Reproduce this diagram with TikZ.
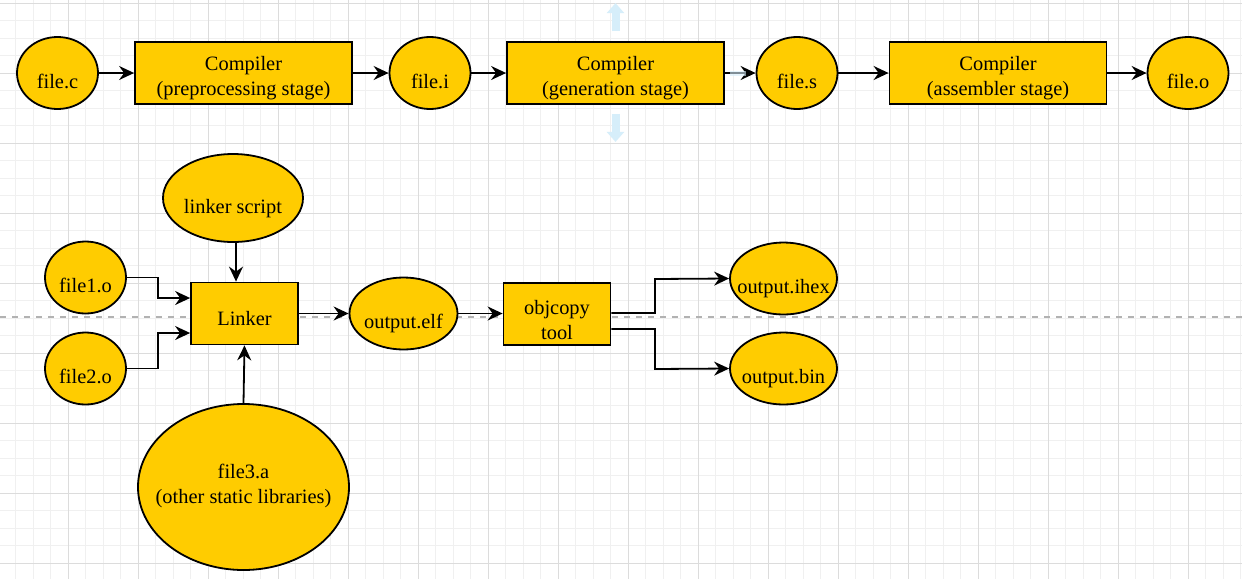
\documentclass[tikz,border=0pt]{standalone}
\usepackage{fontspec}
\setmainfont{Liberation Serif}
\usepackage{tikz}
\usetikzlibrary{shapes.geometric,arrows.meta}

\definecolor{boxfill}{HTML}{FFCC00}
\definecolor{gridminor}{HTML}{F0F0F0}
\definecolor{gridmajor}{HTML}{DCDCDC}
\definecolor{hintblue}{HTML}{D6EEFA}

\newcommand{\toppad}{\rule{0pt}{12pt}}

\begin{document}
\begin{tikzpicture}[x=0.5pt,y=-0.5pt,
    every node/.style={font=\fontsize{10.2}{12.5}\selectfont,align=center,inner sep=0pt},
    file/.style={ellipse,draw=black,line width=0.9pt,fill=boxfill,minimum width=40.5pt,minimum height=36pt,
      inner xsep=-14pt,inner ysep=-4pt,text height=15pt,text depth=0pt},
    stage/.style={rectangle,draw=black,line width=0.9pt,fill=boxfill,minimum width=108.5pt,minimum height=31pt},
    tool/.style={rectangle,draw=black,line width=0.9pt,fill=boxfill,minimum width=53.5pt,minimum height=31pt},
    flow/.style={-{Stealth[length=7.5pt,width=7pt,inset=2.5pt]},line width=0.9pt,black},
    hint/.style={-{Triangle[length=5pt,width=8.5pt]},line width=4pt,hintblue}]
  \useasboundingbox (0,0) rectangle (1242,579);
  \fill[white] (0,0) rectangle (1242,579);
  % grid
  \foreach \i in {0,...,71} {
    \draw[gridminor,line width=0.5pt] ({-2+17.5*\i},0) -- ++(0,579);
  }
  \foreach \j in {0,...,33} {
    \draw[gridminor,line width=0.5pt] (0,{3+17.5*\j}) -- ++(1242,0);
  }
  \foreach \i in {0,...,18} {
    \draw[gridmajor,line width=0.5pt] ({-2+70*\i},0) -- ++(0,579);
  }
  \foreach \j in {0,...,8} {
    \draw[gridmajor,line width=0.5pt] (0,{3+70*\j}) -- ++(1242,0);
  }
  \draw[black!30,dashed,line width=0.6pt] (0,317) -- (1242,317);

  % compile chain
  \node[file] (filec) at (57.5,73) {file.c};
  \node[stage] (pre) at (243.5,73) {\toppad Compiler\\(preprocessing stage)};
  \node[file] (filei) at (430,73) {file.i};
  \node[stage] (gen) at (615.5,73) {\toppad Compiler\\(generation stage)};
  \node[file] (files) at (797,73) {file.s};
  \node[stage] (asm) at (998,73) {\toppad Compiler\\(assembler stage)};
  \node[file] (fileo) at (1188,73) {file.o};

  \draw[flow] (filec) -- (pre);
  \draw[flow] (pre) -- (filei);
  \draw[flow] (filei) -- (gen);
  \draw[flow] (gen) -- (files);
  \draw[flow] (files) -- (asm);
  \draw[flow] (asm) -- (fileo);

  % selection hints
  \draw[hint] (gen.north) ++(0,-10) -- ++(0,-28);
  \draw[hint] (gen.south) ++(0,9) -- ++(0,28);
  \fill[hintblue,opacity=0.6] (gen.east) ++(5,-2.5) rectangle ++(16,5);

  % link stage
  \node[file,minimum width=70pt,minimum height=44pt] (script) at (233,198) {linker script};
  \node[file] (obj1) at (85.5,277.5) {file1.o};
  \node[file] (obj2) at (85.5,368.5) {file2.o};
  \node[tool] (linker) at (244.5,313.5) {\rule{0pt}{12pt}Linker};
  \node[file,minimum width=105.5pt,minimum height=83pt,text height=,text depth=] (lib) at (243.5,487)
    {\strut file3.a\\(other static libraries)\rule[-5pt]{0pt}{0pt}};
  \node[file,minimum width=54pt] (elf) at (403.5,313.5) {output.elf};
  \node[tool] (objcopy) at (557,314) {\rule{0pt}{13pt}objcopy\\tool};
  \node[file,minimum width=53.5pt] (ihex) at (783.5,278.5) {output.ihex};
  \node[file,minimum width=53.5pt] (bin) at (783.5,368.5) {output.bin};

  \coordinate (in1) at (linker.west |- 0,298);
  \coordinate (in2) at (linker.west |- 0,333);
  \coordinate (out1) at (objcopy.east |- 0,313);
  \coordinate (out2) at (objcopy.east |- 0,329);

  \draw[flow] (script.south -| 236,0) -- (linker.north -| 236,0);
  \draw[flow] (obj1.east) -| (158,298) -- (in1);
  \draw[flow] (obj2.east) -| (158,333) -- (in2);
  \draw[flow] (lib.north) -- (linker.south);
  \draw[flow] (linker) -- (elf);
  \draw[flow] (elf) -- (objcopy.west |- elf);
  \draw[flow] (out1) -| (655,279) -- (ihex.west);
  \draw[flow] (out2) -| (655,369) -- (bin.west);
\end{tikzpicture}
\end{document}
